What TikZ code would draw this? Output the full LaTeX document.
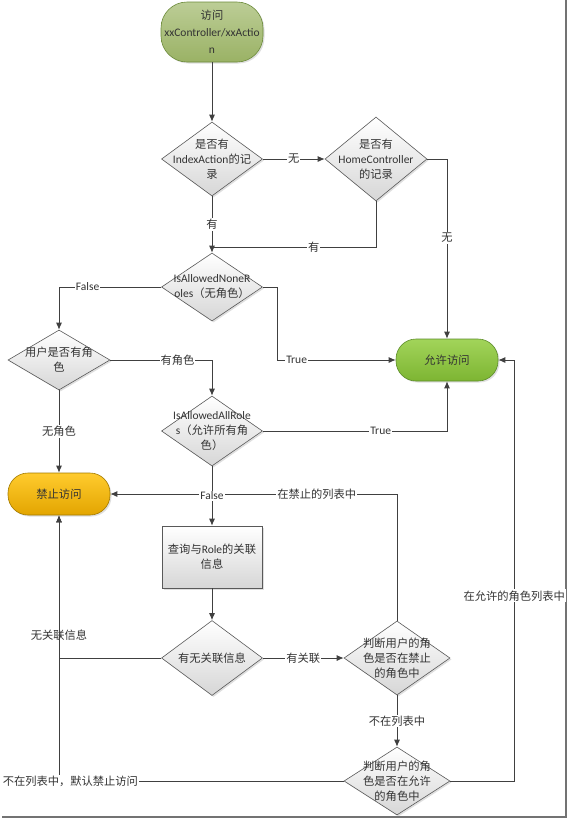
\documentclass[tikz,border=0pt]{standalone}
\usepackage{fontspec}
\setmainfont{Carlito}
\newfontfamily\cjk{Noto Sans CJK SC}[Scale=0.98]
\usetikzlibrary{shapes.geometric, arrows.meta, shadows}
\definecolor{lineGray}{HTML}{404040}
\definecolor{startTop}{HTML}{BCCD96}
\definecolor{startBot}{HTML}{9AB265}
\definecolor{startLine}{HTML}{6B8A3A}
\definecolor{allowTop}{HTML}{A2D45A}
\definecolor{allowBot}{HTML}{7DB532}
\definecolor{allowLine}{HTML}{5C8C2A}
\definecolor{denyTop}{HTML}{FFCB2E}
\definecolor{denyBot}{HTML}{E3A500}
\definecolor{denyLine}{HTML}{A27A00}
\tikzset{
    every node/.style={font=\fontsize{11.5}{15}\selectfont, text=black!80},
    softshadow/.style={drop shadow={opacity=0.25, shadow xshift=1.5pt, shadow yshift=-1.5pt}},
    terminal/.style={ % start and end states
        rectangle, semithick, softshadow,
        align=center, inner sep=0pt
    },
    decision/.style={ % empty diamond, text goes on top
        diamond, draw=black!65, semithick, softshadow,
        top color=white, bottom color=black!16,
        inner sep=0pt
    },
    dtext/.style={align=center, inner sep=0pt},
    process/.style={
        rectangle, draw=black!65, semithick, softshadow,
        top color=white, bottom color=black!16,
        align=center, minimum width=100pt, minimum height=62pt
    },
    lbl/.style={fill=white, inner sep=1pt}, % label sitting on a line
    line/.style={draw=lineGray, line width=0.85pt},
    flow/.style={line, -{Latex[length=7pt, width=6pt]}},
}

\begin{document}
\begin{tikzpicture}[x=1pt, y=-1pt]
    \useasboundingbox (0,0) rectangle (570,820);
    % shadow of the page
    \draw[black!55, line width=2.5pt] (2,817) -- (566,817) -- (566,0);

    % states
    \node[terminal, draw=startLine, top color=startTop, bottom color=startBot,
          minimum width=102pt, minimum height=60pt, rounded corners=26pt,
          font=\fontsize{11.5}{17}\selectfont]            (start)  at (212,32)  {{\cjk 访问}\\xxController/xxActio\\n};
    \node[decision, minimum width=101pt, minimum height=74pt] (idx)    at (212,159) {};
    \node[dtext]                                          (idxT)   at (idx)      {{\cjk 是否有}\\IndexAction{\cjk 的记}\\{\cjk 录}};
    \node[decision, minimum width=102pt, minimum height=84pt] (home)   at (376,159) {};
    \node[dtext]                                          (homeT)  at (home)     {{\cjk 是否有}\\HomeController\\{\cjk 的记录}};
    \node[decision, minimum width=101pt, minimum height=68pt] (none)   at (212,287) {};
    \node[dtext]                                          (noneT)  at (none)     {IsAllowedNoneR\\oles{\cjk （无角色）}};
    \node[decision, minimum width=102pt, minimum height=60pt] (role)   at (59,360)  {};
    \node[dtext]                                          (roleT)  at (role)     {{\cjk 用户是否有角}\\{\cjk 色}};
    \node[terminal, draw=allowLine, top color=allowTop, bottom color=allowBot,
          minimum width=102pt, minimum height=42pt, rounded corners=20pt] (allow) at (447,360) {\cjk 允许访问};
    \node[decision, minimum width=101pt, minimum height=70pt] (aall)   at (212,431) {};
    \node[dtext]                                          (aallT)  at (aall)     {IsAllowedAllRole\\s{\cjk （允许所有角}\\{\cjk 色）}};
    \node[terminal, draw=denyLine, top color=denyTop, bottom color=denyBot,
          minimum width=102pt, minimum height=42pt, rounded corners=20pt] (deny)  at (59,494)  {\cjk 禁止访问};
    \node[process]                                        (query)  at (212,557) {{\cjk 查询与}Role{\cjk 的关联}\\{\cjk 信息}};
    \node[decision, minimum width=101pt, minimum height=75pt] (rel)    at (212,658) {};
    \node[dtext]                                          (relT)   at (rel)      {\cjk 有无关联信息};
    \node[decision, minimum width=106pt, minimum height=74pt] (forbid) at (397,658) {};
    \node[dtext]                                          (forbidT) at (forbid)  {{\cjk 判断用户的角}\\{\cjk 色是否在禁止}\\{\cjk 的角色中}};
    \node[decision, minimum width=106pt, minimum height=68pt] (alw)    at (397,781) {};
    \node[dtext]                                          (alwT)   at (alw)      {{\cjk 判断用户的角}\\{\cjk 色是否在允许}\\{\cjk 的角色中}};
    \coordinate (join) at (212,247);

    % transitions
    \draw[flow] (start) -- (idx);
    \draw[flow] (idx) -- node[lbl]{\cjk 无} (home);
    \draw[flow] (home.east) -| node[lbl, pos=.72]{\cjk 无} (allow.north);
    \draw[flow] (idx.south) -- node[lbl]{\cjk 有} (none.north);
    \draw[line] (home.south) |- node[lbl, pos=.69]{\cjk 有} (join);
    \draw[flow] (none.west) -| node[lbl, pos=.36]{False} (role.north);
    \draw[flow] (none.east) -- ++(15,0) |- node[lbl, pos=.58]{True} (allow.west);
    \draw[flow] (role.east) -| node[lbl, pos=.33]{\cjk 有角色} (aall.north);
    \draw[flow] (role.south) -- node[lbl]{\cjk 无角色} (deny.north);
    \draw[flow] (aall.east) -| node[lbl, pos=.32]{True} (allow.south);
    \draw[flow] (forbid.north) |- node[lbl, pos=.64]{\cjk 在禁止的列表中} (deny.east);
    \draw[flow] (aall.south) -- node[lbl]{False} (query.north);
    \draw[flow] (query.south) -- (rel.north);
    \draw[flow] (rel.east) -- node[lbl]{\cjk 有关联} (forbid.west);
    \draw[flow] (rel.west) -| node[lbl, pos=.58]{\cjk 无关联信息} (deny.south);
    \draw[flow] (forbid.south) -- node[lbl]{\cjk 不在列表中} (alw.north);
    \draw[flow] (alw.west) -| node[lbl, pos=.48]{\cjk 不在列表中，默认禁止访问} (deny.south);
    \draw[flow] (alw.east) -- ++(64,0) |- node[lbl, pos=.22]{\cjk 在允许的角色列表中} (allow.east);
\end{tikzpicture}
\end{document}
